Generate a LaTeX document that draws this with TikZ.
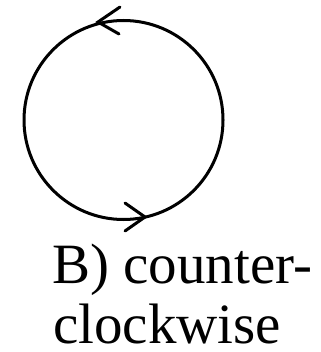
\documentclass[tikz,border=0pt]{standalone}
\usepackage{fontspec}
\setmainfont{Liberation Serif}
\begin{document}
\begin{tikzpicture}[x=1pt,y=-1pt,
  stroke/.style={line width=3pt,black},
  barb/.style={line width=3pt,black,line cap=round,line join=miter},
  lbl/.style={font=\fontsize{57}{60}\selectfont,anchor=base west,inner sep=0pt}]
\useasboundingbox (0,0) rectangle (320,352);
\draw[stroke] (123.5,120) circle [radius=99.5];
\coordinate (toptip) at (98,22);
\coordinate (topA) at (120,7);
\coordinate (topB) at (119,34);
\draw[barb] (topA) -- (toptip) -- (topB);
\coordinate (bottip) at (145,217);
\coordinate (botA) at (125,203);
\coordinate (botB) at (125,231);
\draw[barb] (botA) -- (bottip) -- (botB);
\node[lbl] (line1) at (52,283) {B) counter-};
\node[lbl] (line2) at (53,343) {clockwise};
\end{tikzpicture}
\end{document}
